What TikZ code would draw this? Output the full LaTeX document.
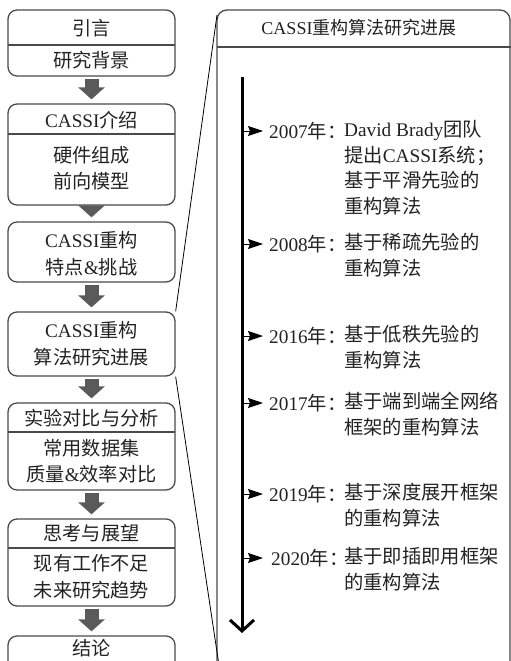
\documentclass[tikz,border=0pt]{standalone}
\usepackage{fontspec}
\setmainfont{Liberation Serif}
\newfontfamily\cjk{Noto Sans CJK SC}
\newcommand\zh[1]{{\cjk #1}}
\usetikzlibrary{arrows.meta}
\definecolor{txt}{HTML}{222222}
\definecolor{edge}{HTML}{4A4A4A}
\definecolor{blk}{HTML}{5A5A5A}
\begin{document}
\begin{tikzpicture}[x=1pt,y=-1pt,
  box/.style={draw=edge,line width=1.3pt,rounded corners=9pt,minimum width=167pt,inner sep=0pt},
  divider/.style={draw=edge,line width=1.3pt},
  lbl/.style={text=txt,font=\fontsize{19.2}{22}\selectfont,inner sep=0pt},
  head/.style={text=txt,font=\fontsize{18}{22}\selectfont,inner sep=0pt},
  entry/.style={text=txt,font=\fontsize{19.3}{25.7}\selectfont,inner sep=0pt,align=left,anchor=north west},
  year/.style={text=txt,font=\fontsize{19.3}{22}\selectfont,inner sep=0pt,anchor=west},
  blockarrow/.style={blk,line width=14pt,-{Triangle[length=12pt,width=26pt]}},
  tick/.style={black,line width=1pt,-{Stealth[length=15pt,width=10pt,inset=2pt]}},
  zoomline/.style={black,line width=0.8pt}]
\clip (0,0) rectangle (511,661);
% left column boxes
\node[box,minimum height=66pt] (b1) at (91.5,43) {};
\draw[divider] (8,45) -- (175,45);
\node[lbl] (t11) at (91.5,28) {\zh{引言}};
\node[lbl] (t12) at (91.5,60) {\zh{研究背景}};
\node[box,minimum height=101pt] (b2) at (91.5,154.5) {};
\draw[divider] (8,134) -- (175,134);
\node[lbl] (t21) at (91.5,120) {CASSI\zh{介绍}};
\node[lbl] (t22) at (91.5,155) {\zh{硬件组成}};
\node[lbl] (t23) at (91.5,181) {\zh{前向模型}};
\node[box,minimum height=60pt] (b3) at (91.5,252) {};
\node[lbl] (t31) at (91.5,240) {CASSI\zh{重构}};
\node[lbl] (t32) at (91.5,267) {\zh{特点}\&\zh{挑战}};
\node[box,minimum height=64pt] (b4) at (91.5,344) {};
\node[lbl] (t41) at (91.5,330) {CASSI\zh{重构}};
\node[lbl] (t42) at (91.5,357) {\zh{算法研究进展}};
\node[box,minimum height=87pt] (b5) at (91.5,446.5) {};
\draw[divider] (8,432) -- (175,432);
\node[lbl] (t51) at (91.5,418) {\zh{实验对比与分析}};
\node[lbl] (t52) at (91.5,448) {\zh{常用数据集}};
\node[lbl] (t53) at (91.5,474) {\zh{质量}\&\zh{效率对比}};
\node[box,minimum height=87pt] (b6) at (91.5,562.5) {};
\draw[divider] (8,548) -- (175,548);
\node[lbl] (t61) at (91.5,533) {\zh{思考与展望}};
\node[lbl] (t62) at (91.5,563) {\zh{现有工作不足}};
\node[lbl] (t63) at (91.5,590) {\zh{未来研究趋势}};
\node[box,minimum height=64pt] (b7) at (91.5,668) {};
\node[lbl] (t71) at (91.5,648) {\zh{结论}};
% block arrows
\draw[blockarrow] ([yshift=-2pt]b1.south) -- ([yshift=4pt]b2.north);
\draw[blockarrow] ([yshift=-2pt]b2.south) -- ([yshift=4pt]b3.north);
\draw[blockarrow] ([yshift=-2pt]b3.south) -- ([yshift=4pt]b4.north);
\draw[blockarrow] ([yshift=-2pt]b4.south) -- ([yshift=4pt]b5.north);
\draw[blockarrow] ([yshift=-2pt]b5.south) -- ([yshift=4pt]b6.north);
\draw[blockarrow] ([yshift=-2pt]b6.south) -- ([yshift=4pt]b7.north);
% right panel
\draw[edge,line width=1.3pt,rounded corners=10pt] (217,10) rectangle (510,720);
\draw[edge,line width=2pt] (217,47) -- (511,47);
\node[head] (ph) at (359,28) {CASSI\zh{重构算法研究进展}};
\coordinate (ptl) at (217,15);
\coordinate (pbl) at (220,672);
\draw[zoomline] (b4.north east) -- (ptl);
\draw[zoomline] (b4.south east) -- (pbl);
% timeline
\coordinate (tltop) at (242,77);
\coordinate (tlbot) at (242,633);
\draw[black,line width=3pt,-{Straight Barb[length=11pt,width=24pt,line width=3pt]}] (tltop) -- (tlbot);
% entries
\foreach \n/\yy in {a/131,b/244,c/336,d/403,e/494,f/558}{
  \coordinate (s\n) at (242,\yy);
  \coordinate (e\n) at (263,\yy);
  \draw[tick] (s\n) -- (e\n);
}
\node[year] (ya) at (269,131) {2007\zh{年：}};
\node[entry] (xa) at (344,120) {David Brady\zh{团队}\\\zh{提出}CASSI\zh{系统；}\\\zh{基于平滑先验的}\\\zh{重构算法}};
\node[year] (yb) at (269,244) {2008\zh{年：}};
\node[entry] (xb) at (344,233) {\zh{基于稀疏先验的}\\\zh{重构算法}};
\node[year] (yc) at (269,336) {2016\zh{年：}};
\node[entry] (xc) at (344,325) {\zh{基于低秩先验的}\\\zh{重构算法}};
\node[year] (yd) at (269,403) {2017\zh{年：}};
\node[entry] (xd) at (344,392) {\zh{基于端到端全网络}\\\zh{框架的重构算法}};
\node[year] (ye) at (269,494) {2019\zh{年：}};
\node[entry] (xe) at (344,483) {\zh{基于深度展开框架}\\\zh{的重构算法}};
\node[year] (yf) at (271,558) {2020\zh{年：}};
\node[entry] (xf) at (344,547) {\zh{基于即插即用框架}\\\zh{的重构算法}};
\end{tikzpicture}
\end{document}
